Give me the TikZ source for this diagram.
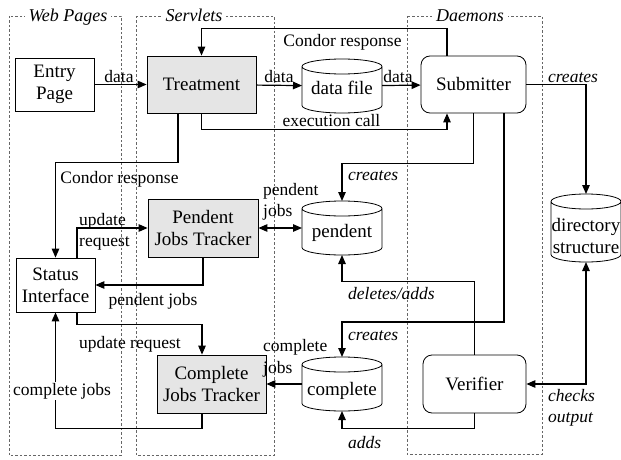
\documentclass[tikz,border=0pt]{standalone}
\usepackage{fontspec}
\setmainfont{Liberation Serif}
\usetikzlibrary{arrows.meta,calc}
\begin{document}
\begin{tikzpicture}[x=1pt,y=-1pt,
  box/.style 2 args={draw, line width=0.8pt, minimum width=#1, minimum height=#2, inner sep=0pt, align=center, font=\fontsize{19}{22}\selectfont},
  proc/.style 2 args={box={#1}{#2}, fill=black!10},
  dmn/.style 2 args={box={#1}{#2}, rounded corners=9pt},
  cylbox/.style 2 args={minimum width=#1, minimum height=#2, inner sep=0pt, outer sep=0pt},
  txt/.style={font=\fontsize{19}{22}\selectfont, inner sep=0pt, align=center},
  lab/.style={font=\fontsize{17.5}{21}\selectfont, inner sep=0pt},
  ilab/.style={inner sep=0pt, font=\fontsize{17.5}{21}\selectfont\itshape},
  conn/.style={line width=1.2pt, -{Triangle[length=9pt,width=7.5pt]}},
  conntwo/.style={line width=1.2pt, {Triangle[length=9pt,width=7.5pt]}-{Triangle[length=9pt,width=7.5pt]}},
  region/.style={draw=black!60, dash pattern=on 2.5pt off 2pt, line width=0.6pt},
  title/.style={font=\fontsize{18}{21}\selectfont\itshape, fill=white, inner xsep=4pt, inner ysep=2pt}
]
\useasboundingbox (0,0) rectangle (621,460);
% regions
\draw[region] (9,16) rectangle (121,455);
\draw[region] (136,16) rectangle (274,455);
\draw[region] (407,16) rectangle (542,454);
\node[title, anchor=base] (tw) at (68,21.5) {Web Pages};
\node[title, anchor=base] (ts) at (194,21.5) {Servlets};
\node[title, anchor=base] (td) at (470,21.5) {Daemons};
% nodes
\node[box={79pt}{53pt}] (entry) at (54.5,84.5) {Entry\\Page};
\node[proc={109pt}{57pt}] (treat) at (201.5,84.5) {Treatment};
\node[cylbox={80pt}{54pt}] (df) at (342,86) {};
\node[txt, anchor=base] (dft) at (342,95) {data file};
\node[dmn={105pt}{57pt}] (sub) at (473.5,84.5) {Submitter};
\node[cylbox={70pt}{68pt}] (ds) at (586,228) {};
\node[txt] (dst) at (586,236) {directory\\structure};
\node[box={79pt}{54pt}] (stat) at (55.5,285) {Status\\Interface};
\node[proc={110pt}{58pt}] (pjt) at (203,228) {Pendent\\Jobs Tracker};
\node[cylbox={80pt}{54pt}] (pd) at (342,228) {};
\node[txt, anchor=base] (pdt) at (342,237) {pendent};
\node[proc={109pt}{58pt}] (cjt) at (211.5,384) {Complete\\Jobs Tracker};
\node[cylbox={80pt}{54pt}] (cp) at (342,384) {};
\node[txt, anchor=base] (cpt) at (342,395) {complete};
\node[dmn={103pt}{58pt}] (ver) at (474.5,384) {Verifier};
% cylinders
\foreach \c in {df,pd,cp,ds}{
  \draw[line width=0.8pt] let \p1=(\c.north west), \p2=(\c.south east), \n1={(\x2-\x1)/2} in
    (\x1,\y1-7.5pt) -- (\x1,\y2+7.5pt) arc[start angle=180, end angle=360, x radius=\n1, y radius=7.5pt] -- (\x2,\y1-7.5pt)
    (\x1,\y1-7.5pt) arc[start angle=180, end angle=-180, x radius=\n1, y radius=7.5pt];
}
% connectors
\draw[conn] (entry) -- (treat);
\draw[conn] (treat) -- (df);
\draw[conn] (df) -- (sub);
\draw[conn] ([xshift=-26.5pt]sub.north) -- ++(0,-27) -| (treat.north);
\draw[conn] (treat.south) -- ++(0,16) -| ([xshift=-26.5pt]sub.south);
\draw[conn] ([xshift=-23.5pt]treat.south) -- ++(0,49) -| (stat.north);
\draw[conn] ([xshift=21.5pt]stat.north) |- (pjt.west);
\draw[conn] (pjt.south) |- (stat.east);
\draw[conntwo] (pjt.east) -- (pd.west);
\draw[conn] (sub.south) -- ++(0,50) -| (pd.north);
\draw[conn] (ver.north) -- ++(0,-73) -| (pd.south);
\draw[conn] ([xshift=30.5pt]sub.south) |- ([yshift=35pt]cp.north) -- (cp.north);
\draw[conn] (ver.south) -- ++(0,15) -| (cp.south);
\draw[conn] (cp.west) -- (cjt.east);
\draw[conn] ([xshift=21.5pt]stat.south) -- ++(0,12) -| ([xshift=-9.5pt]cjt.north);
\draw[conn] ([xshift=-9.5pt]cjt.south) -- ++(0,15) -| (stat.south);
\draw[conn] (sub.east) -| (ds.north);
\draw[conntwo] (ds.south) |- (ver.east);
% labels
\node[lab, anchor=base] (l1) at (119,82) {data};
\node[lab, anchor=base] (l2) at (279,82) {data};
\node[lab, anchor=base] (l3) at (398,82) {data};
\node[lab, anchor=base] (l4) at (342.5,46.5) {Condor response};
\node[lab, anchor=base] (l5) at (331.5,126) {execution call};
\node[ilab, anchor=base] (l6) at (573,82) {creates};
\node[lab, anchor=base] (l7) at (119.5,183) {Condor response};
\node[lab, anchor=base west] (l8a) at (79,225) {update};
\node[lab, anchor=base west] (l8b) at (79,246.5) {request};
\node[lab, anchor=base] (l9) at (153,305) {pendent jobs};
\node[lab, anchor=base west] (l10a) at (263,195) {pendent};
\node[lab, anchor=base west] (l10b) at (263,216.5) {jobs};
\node[ilab, anchor=base west] (l11) at (348,180) {creates};
\node[ilab, anchor=base west] (l12) at (348,299) {deletes/adds};
\node[ilab, anchor=base west] (l13) at (348,340) {creates};
\node[ilab, anchor=base west] (l14) at (348,448) {adds};
\node[lab, anchor=base west] (l15a) at (263,351.5) {complete};
\node[lab, anchor=base west] (l15b) at (263,373) {jobs};
\node[lab, anchor=base west] (l16) at (79,348) {update request};
\node[lab, anchor=base, fill=white, inner xsep=1pt, inner ysep=1pt] (l17) at (62,395) {complete jobs};
\node[ilab, anchor=base west] (l18a) at (548,401.5) {checks};
\node[ilab, anchor=base west] (l18b) at (548,422.5) {output};
\end{tikzpicture}
\end{document}
